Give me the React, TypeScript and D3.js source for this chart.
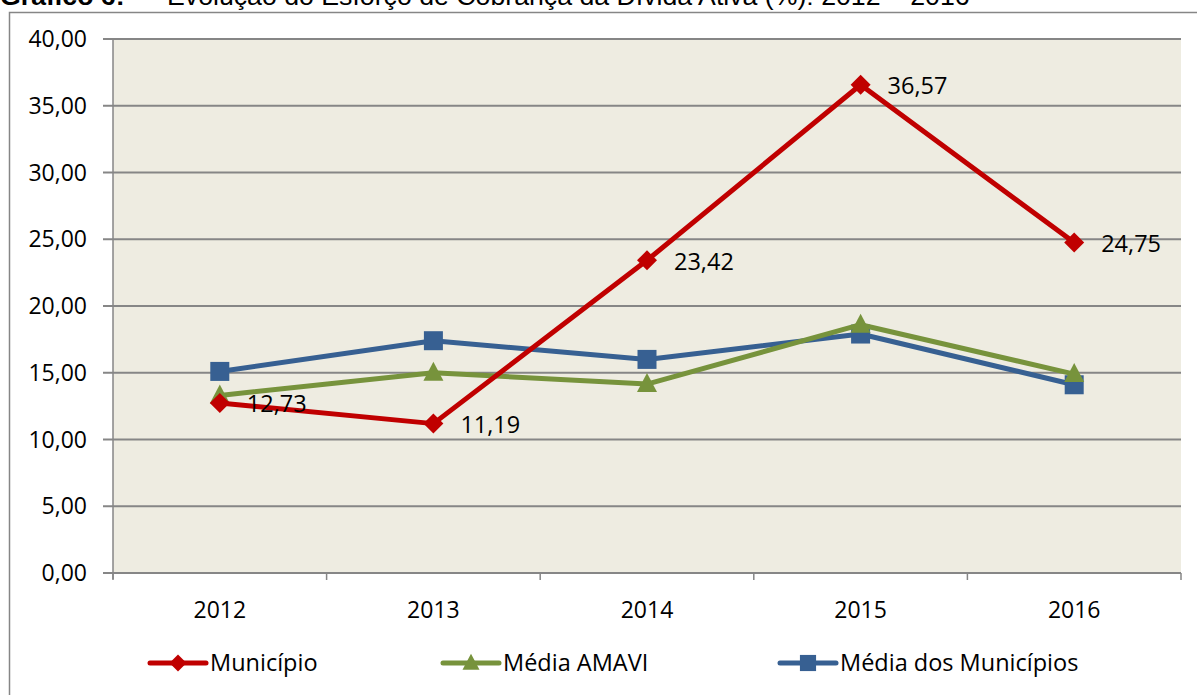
import * as d3 from 'd3';

const years = ['2012', '2013', '2014', '2015', '2016'];
const municipio = [12.73, 11.19, 23.42, 36.57, 24.75];
const mediaAmavi = [13.3, 15.0, 14.15, 18.6, 14.9];
const mediaMunicipios = [15.1, 17.4, 16.0, 17.9, 14.1];
const yTicks = [0, 5, 10, 15, 20, 25, 30, 35, 40];

const W = 1197;
const H = 695;
const plot = { left: 113, right: 1181, top: 39, bottom: 573 };
const font = '"Open Sans", Lato, sans-serif';
const axisFs = 23;
const labelFs = 23.5;

const fmt = (v: number) => v.toFixed(2).replace('.', ',');

const series = [
    { name: 'Município', values: municipio, color: '#C00000', marker: 'diamond', legendX: 150 },
    { name: 'Média AMAVI', values: mediaAmavi, color: '#77933C', marker: 'triangle', legendX: 443 },
    { name: 'Média dos Municípios', values: mediaMunicipios, color: '#376092', marker: 'square', legendX: 780 },
];

function Marker({ type, x, y, color, s = 1 }: { type: string; x: number; y: number; color: string; s?: number }) {
    if (type === 'diamond') {
        const r = 10 * s;
        return <path d={`M${x},${y - r}L${x + r},${y}L${x},${y + r}L${x - r},${y}Z`} fill={color} />;
    }
    if (type === 'triangle') {
        return <path d={`M${x},${y - 11 * s}L${x + 10 * s},${y + 8 * s}L${x - 10 * s},${y + 8 * s}Z`} fill={color} />;
    }
    const h = 9.5 * s;
    return <rect x={x - h} y={y - h} width={2 * h} height={2 * h} fill={color} />;
}

export default function App() {
    const x = d3.scaleBand().domain(years).range([plot.left, plot.right]);
    const y = d3.scaleLinear().domain([0, 40]).range([plot.bottom, plot.top]);
    const cx = (d: string) => (x(d) ?? 0) + x.bandwidth() / 2;

    const line = d3
        .line<number>()
        .x((_, i) => cx(years[i]))
        .y((d) => y(d));

    const boundaries = years.map((d) => x(d) ?? 0).concat([plot.right]);

    return (
        <svg width={W} height={H} style={{ position: 'fixed', left: 0, top: 0, background: '#fff' }}>
            {/* title, clipped at the top like the source */}
            <g fontFamily='"Liberation Sans", Arial, sans-serif' fontSize={26.7} fill='#000'>
                <text x={0} y={5} fontWeight='bold'>Gráfico 6:</text>
                <text x={137} y={5}>–</text>
                <text x={167} y={5}>Evolução do Esforço de Cobrança da Dívida Ativa (%): 2012 – 2016</text>
            </g>

            {/* chart border */}
            <path d={`M9.5,${H}V12.5H${W}`} fill='none' stroke='#868686' strokeWidth={1.5} />

            {/* plot area */}
            <rect x={plot.left} y={plot.top} width={plot.right - plot.left} height={plot.bottom - plot.top} fill='#EEECE1' />

            {/* gridlines + y ticks */}
            {yTicks.map((t) => (
                <g key={t}>
                    <line x1={plot.left - 10} x2={plot.right} y1={y(t)} y2={y(t)} stroke='#868686' strokeWidth={2} />
                    <text x={87} y={y(t)} dy='0.35em' textAnchor='end' fontFamily={font} fontSize={axisFs} fill='#000'>
                        {fmt(t)}
                    </text>
                </g>
            ))}
            <line x1={plot.left} x2={plot.left} y1={plot.top} y2={plot.bottom + 6} stroke='#868686' strokeWidth={1.5} />

            {/* x ticks */}
            {boundaries.map((b, i) => (
                <line key={i} x1={b} x2={b} y1={plot.bottom} y2={plot.bottom + 7} stroke='#868686' strokeWidth={1.5} />
            ))}
            {years.map((d) => (
                <text key={d} x={cx(d)} y={610} dy='0.35em' textAnchor='middle' fontFamily={font} fontSize={axisFs} fill='#000'>
                    {d}
                </text>
            ))}

            {/* series */}
            {[...series].reverse().map((s) => (
                <g key={s.name}>
                    <path d={line(s.values) ?? ''} fill='none' stroke={s.color} strokeWidth={5} strokeLinejoin='round' strokeLinecap='round' />
                    {s.values.map((v, i) => (
                        <Marker key={i} type={s.marker} x={cx(years[i])} y={y(v)} color={s.color} />
                    ))}
                </g>
            ))}

            {/* data labels for Município */}
            {municipio.map((v, i) => (
                <text key={i} x={cx(years[i]) + 27} y={y(v) + 1} dy='0.35em' fontFamily={font} fontSize={labelFs} fill='#000'>
                    {fmt(v)}
                </text>
            ))}

            {/* legend */}
            {series.map((s) => (
                <g key={s.name}>
                    <line x1={s.legendX} x2={s.legendX + 56} y1={663} y2={663} stroke={s.color} strokeWidth={5} strokeLinecap='round' />
                    <Marker type={s.marker} x={s.legendX + 28} y={663} color={s.color} s={0.85} />
                    <text x={s.legendX + 60} y={663} dy='0.35em' fontFamily={font} fontSize={labelFs} fill='#000'>
                        {s.name}
                    </text>
                </g>
            ))}
        </svg>
    );
}
